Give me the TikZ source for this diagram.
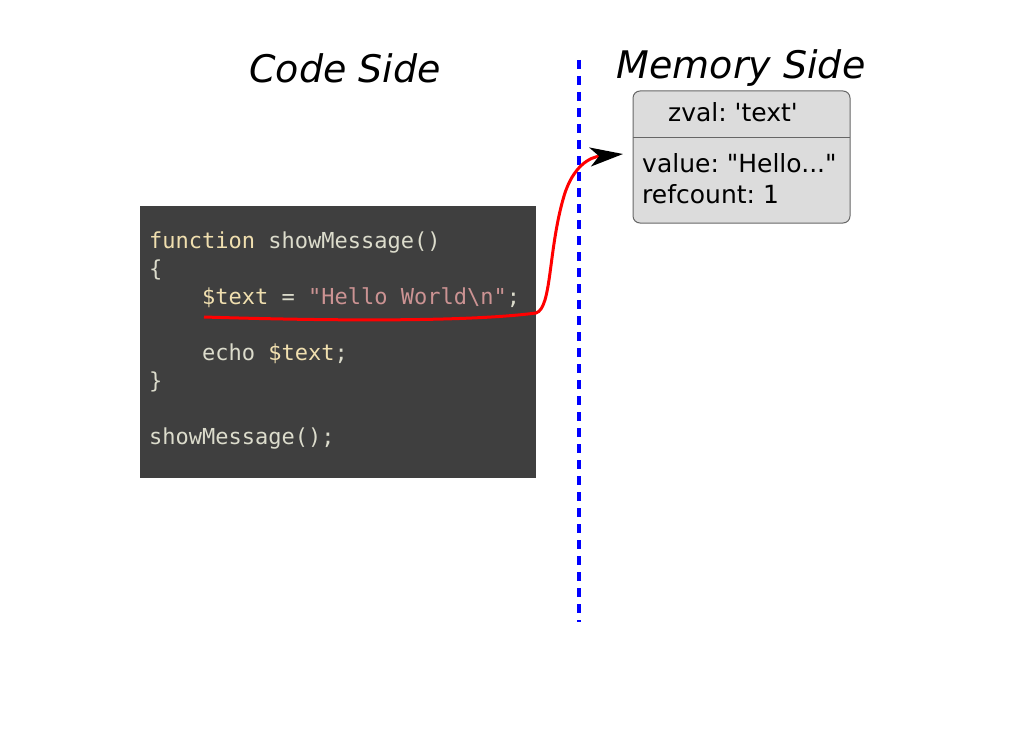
\documentclass[tikz,border=0pt]{standalone}
\usepackage{fontspec}
\setmainfont[Ligatures=TeXOff]{DejaVu Sans}
\newfontfamily\codefont[Ligatures=TeXOff]{DejaVu Sans Mono}
\usetikzlibrary{arrows.meta}
\definecolor{codebg}{HTML}{3F3F3F}
\definecolor{codeplain}{HTML}{DCDCCC}
\definecolor{codekw}{HTML}{F0DFAF}
\definecolor{codestr}{HTML}{CC9393}
\definecolor{zvalfill}{HTML}{DCDCDC}
\tikzset{
  title/.style={font=\fontsize{38}{44}\selectfont\itshape, text=black},
  codeline/.style={anchor=base west, inner sep=0, font=\codefont\fontsize{22}{28}\selectfont, text=codeplain},
  zvaltext/.style={font=\fontsize{25}{31}\selectfont\frenchspacing, text=black, inner sep=0},
}
\begin{document}
\begin{tikzpicture}[x=1pt,y=-1pt]
\useasboundingbox (0,0) rectangle (1024,746);
% titles
\node[title] (codetitle) at (345,68) {Code Side};
\node[title] (memtitle) at (741,68) {Memory Side};
% divider
\draw[blue, line width=3.5, dash pattern=on 9 off 7] (579,60) -- (579,622);
% code box
\fill[codebg] (140,206) rectangle (536,478);
\node[codeline] (l1) at (149,248) {\textcolor{codekw}{function} showMessage()};
\node[codeline] (l2) at (149,276) {\{};
\node[codeline] (l3) at (149,304) {\phantom{xxxx}\textcolor{codekw}{\$text} = \textcolor{codestr}{"Hello World\textbackslash n"};};
\node[codeline] (l4) at (149,360) {\phantom{xxxx}echo \textcolor{codekw}{\$text};};
\node[codeline] (l5) at (149,388) {\}};
\node[codeline] (l6) at (149,444) {showMessage();};
% zval box
\draw[fill=zvalfill, draw=black!60, line width=1, rounded corners=7] (633,91) rectangle (850,223);
\draw[black!60, line width=1] (633,138) -- (850,138);
\node[zvaltext, anchor=base] (zname) at (733,122) {zval: 'text'};
\node[zvaltext, anchor=base west] (zval) at (642,172) {value: "Hello..."};
\node[zvaltext, anchor=base west] (zref) at (642,203) {refcount: 1};
\coordinate (start) at (204,317);
\coordinate (tip) at (623,154);
% arrow
\draw[red, line width=3, -{Stealth[black, length=33, width=19, inset=9]}]
  (start) .. controls (300,320) and (460,323) .. (536,313)
  .. controls (552,308) and (548,250) .. (564,196)
  .. controls (573,166) and (590,157) .. (tip);
\end{tikzpicture}
\end{document}
